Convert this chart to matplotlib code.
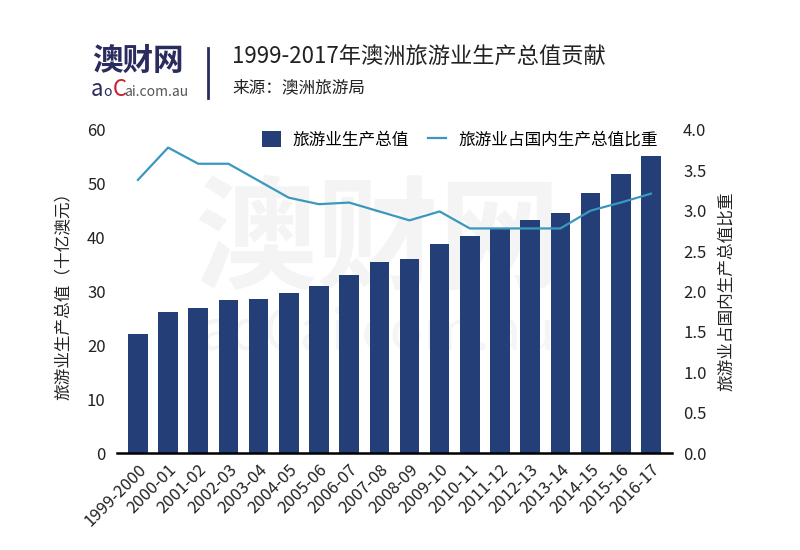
import matplotlib
matplotlib.use("Agg")
import matplotlib.pyplot as plt
from matplotlib.lines import Line2D
from matplotlib.patches import Patch

plt.rcParams['font.family'] = ['Noto Sans CJK SC', 'DejaVu Sans']

# data
years = ['1999-2000', '2000-01', '2001-02', '2002-03', '2003-04', '2004-05',
         '2005-06', '2006-07', '2007-08', '2008-09', '2009-10', '2010-11',
         '2011-12', '2012-13', '2013-14', '2014-15', '2015-16', '2016-17']
tourism_gva = [22.2, 26.2, 26.9, 28.4, 28.7, 29.7, 31.1, 33.1, 35.4, 36.1,
               38.8, 40.3, 41.8, 43.3, 44.6, 48.3, 51.8, 55.1]
gdp_share = [3.38, 3.78, 3.58, 3.58, 3.37, 3.16, 3.08, 3.10, 2.99, 2.88,
             2.99, 2.78, 2.78, 2.78, 2.78, 3.00, 3.10, 3.21]

bar_color = '#243F77'
line_color = '#3A98BF'
text_color = '#222222'

fig = plt.figure(figsize=(8, 5.5), dpi=100)
ax = fig.add_axes([0.146, 0.176, 0.694, 0.588])
ax2 = ax.twinx()

x = list(range(len(years)))

# faint watermark behind the bars
ax.text(0.47, 0.65, '澳财网', transform=ax.transAxes, fontsize=88,
        fontweight='bold', color='#F4F4F4', ha='center', va='center', zorder=0)
ax.text(0.47, 0.37, 'aoCai.com.au', transform=ax.transAxes, fontsize=40,
        color='#F5F5F5', ha='center', va='center', zorder=0)

ax.bar(x, tourism_gva, width=0.65, color=bar_color, zorder=2)
ax2.plot(x, gdp_share, color=line_color, linewidth=1.6, zorder=3)

ax.set_xlim(-0.7, len(years) - 0.3)
ax.set_ylim(0, 60)
ax2.set_ylim(0, 4.0)
ax.set_yticks(range(0, 61, 10))
ax2.set_yticks([i * 0.5 for i in range(9)])
ax2.set_yticklabels(['%.1f' % (i * 0.5) for i in range(9)])

ax.set_xticks(x)
ax.set_xticklabels(years, rotation=45, ha='right', rotation_mode='anchor',
                   fontsize=11.5, color=text_color)

for a in (ax, ax2):
    for s in a.spines.values():
        s.set_visible(False)
    a.tick_params(length=0, labelsize=12, colors=text_color)
ax.spines['bottom'].set_visible(True)
ax.spines['bottom'].set_linewidth(1.8)
ax.spines['bottom'].set_color('black')
ax.tick_params(axis='x', pad=6)
ax.tick_params(axis='y', pad=8)
ax2.tick_params(axis='y', pad=8)

ax.set_ylabel('旅游业生产总值（十亿澳元）', fontsize=12, color=text_color, labelpad=10)
ax2.set_ylabel('旅游业占国内生产总值比重', fontsize=12, color=text_color,
               rotation=90, labelpad=8)

handles = [Patch(facecolor=bar_color, edgecolor='none'),
           Line2D([0], [0], color=line_color, linewidth=1.6)]
fig.legend(handles, ['旅游业生产总值', '旅游业占国内生产总值比重'],
           loc='center', bbox_to_anchor=(0.575, 0.745), ncol=2, frameon=False,
           fontsize=12, handlelength=1.1, handleheight=1.1,
           columnspacing=1.15, handletextpad=0.7, borderpad=0)

# header
fig.text(0.115, 0.89, '澳财网', fontsize=22, fontweight='bold', color='#2A2B5E',
         ha='left', va='center')
fig.text(0.113, 0.826, 'a', fontsize=16, color='#2A2B5E', ha='left', va='baseline')
fig.text(0.1295, 0.826, 'o', fontsize=10, color='#2A2B5E', ha='left', va='baseline')
fig.text(0.1405, 0.826, 'C', fontsize=16, color='#C8202F', ha='left', va='baseline')
fig.text(0.1555, 0.826, 'ai.com.au', fontsize=10, color='#555555', ha='left', va='baseline')
fig.add_artist(Line2D([0.26, 0.26], [0.822, 0.913], color='#2A2B5E', linewidth=2))
fig.text(0.29, 0.896, '1999-2017年澳洲旅游业生产总值贡献', fontsize=16,
         color=text_color, ha='left', va='center')
fig.text(0.29, 0.84, '来源：澳洲旅游局', fontsize=12, color=text_color,
         ha='left', va='center')

plt.savefig('out.png', dpi=100)
